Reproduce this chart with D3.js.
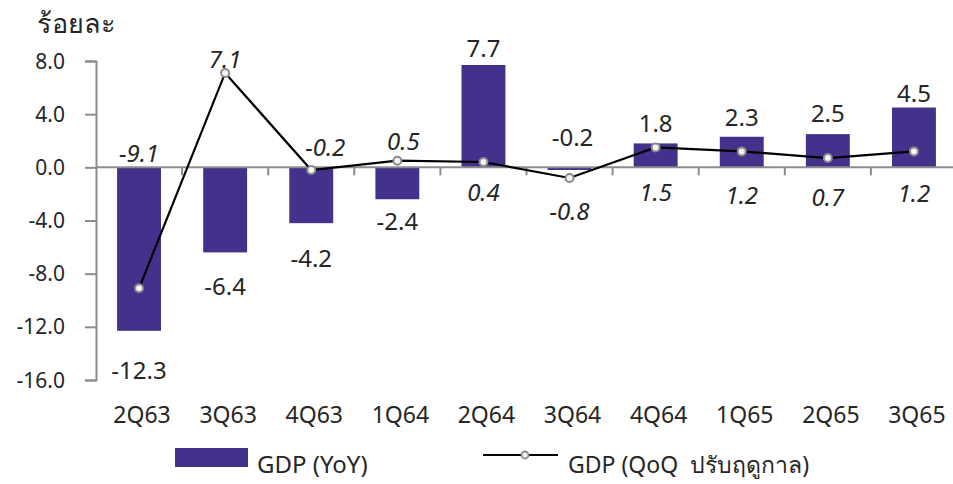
<!DOCTYPE html>
<html>
<head>
<meta charset="utf-8">
<script src="https://cdn.jsdelivr.net/npm/d3@7"></script>
<style>
body { margin: 0; background: #fff; }
svg { font-family: "Noto Sans", "DejaVu Sans", sans-serif; }
</style>
</head>
<body>
<script>
var quarters = ["2Q63", "3Q63", "4Q63", "1Q64", "2Q64", "3Q64", "4Q64", "1Q65", "2Q65", "3Q65"];
var gdpYoY = [-12.3, -6.4, -4.2, -2.4, 7.7, -0.2, 1.8, 2.3, 2.5, 4.5];
var gdpQoQ = [-9.1, 7.1, -0.2, 0.5, 0.4, -0.8, 1.5, 1.2, 0.7, 1.2];
var yTicks = [8, 4, 0, -4, -8, -12, -16];

// where each value label sits, in axis units
var yoyLabelAt = [-15.3, -9.0, -6.85, -4.1, 8.95, 2.2, 3.3, 3.75, 4.05, 5.55];
var qoqLabelAt = [1.05, 8.1, 1.5, 1.95, -1.9, -3.3, -1.9, -2.1, -2.25, -1.95];

var w = 953;
var h = 484;
var barColor = "#44318b";
var axisColor = "#8c8c8c";
var textColor = "#262626";

var svg = d3.select("body").append("svg").attr("width", w).attr("height", h);

var x = d3.scaleBand().domain(quarters).range([96, 957]).paddingInner(0.49).paddingOuter(0.245);
var y = d3.scaleLinear().domain([-16, 8]).range([380, 61]);
var step = x.step();

// unit label
svg.append("text").attr("x", 37).attr("y", 33).attr("font-size", 27).attr("fill", textColor).text("ร้อยละ");

// bars
svg.selectAll("rect.bar").data(gdpYoY).enter().append("rect")
    .attr("class", "bar")
    .attr("x", function(d, i){ return x(quarters[i]); })
    .attr("y", function(d){ return y(Math.max(0, d)); })
    .attr("width", x.bandwidth())
    .attr("height", function(d){ return Math.abs(y(d) - y(0)); })
    .attr("fill", barColor);

// y axis: ticks from d3, labels written next to them
var yAxis = d3.axisLeft(y).tickValues(yTicks).tickSize(11).tickFormat("");
var gy = svg.append("g").attr("transform", "translate(96,0)").call(yAxis);
gy.select(".domain").attr("stroke", axisColor).attr("stroke-width", 2);
gy.selectAll(".tick line").attr("stroke", axisColor).attr("stroke-width", 2);

svg.selectAll("text.ytick").data(yTicks).enter().append("text")
    .attr("class", "ytick")
    .attr("x", 65)
    .attr("y", function(d){ return y(d); })
    .attr("dy", "0.36em")
    .attr("text-anchor", "end").attr("font-size", 21).attr("fill", textColor)
    .text(function(d){ return d.toFixed(1); });

// zero line with category ticks
svg.append("line").attr("x1", 96).attr("x2", w).attr("y1", y(0)).attr("y2", y(0))
    .attr("stroke", axisColor).attr("stroke-width", 2);
svg.selectAll("line.ctick").data(quarters.slice(1)).enter().append("line")
    .attr("class", "ctick")
    .attr("x1", function(d){ return x(d) - x.paddingInner() * step / 2; })
    .attr("x2", function(d){ return x(d) - x.paddingInner() * step / 2; })
    .attr("y1", y(0)).attr("y2", y(0) + 8)
    .attr("stroke", axisColor).attr("stroke-width", 2);

// category labels
svg.selectAll("text.cat").data(quarters).enter().append("text")
    .attr("class", "cat")
    .attr("x", function(d){ return x(d) + x.bandwidth() / 2 + 3; })
    .attr("y", 423)
    .attr("text-anchor", "middle").attr("font-size", 23).attr("fill", textColor)
    .text(function(d){ return d; });

// QoQ line
var cx = function(i){ return x(quarters[i]) + x.bandwidth() / 2; };
var line = d3.line().x(function(d, i){ return cx(i); }).y(function(d){ return y(d); });
svg.append("path").datum(gdpQoQ).attr("d", line)
    .attr("fill", "none").attr("stroke", "#000").attr("stroke-width", 2.2);
svg.selectAll("circle.pt").data(gdpQoQ).enter().append("circle")
    .attr("class", "pt")
    .attr("cx", function(d, i){ return cx(i); })
    .attr("cy", function(d){ return y(d); })
    .attr("r", 4)
    .attr("fill", "#f4f4f4").attr("stroke", "#8a8a8a").attr("stroke-width", 2);

// value labels
svg.selectAll("text.yoy").data(gdpYoY).enter().append("text")
    .attr("class", "yoy")
    .attr("x", function(d, i){ return cx(i) + (i == 5 ? 3 : 0); })
    .attr("y", function(d, i){ return y(yoyLabelAt[i]); })
    .attr("dy", "0.35em")
    .attr("text-anchor", "middle").attr("font-size", 24).attr("fill", textColor)
    .text(function(d){ return d.toFixed(1); });

svg.selectAll("text.qoq").data(gdpQoQ).enter().append("text")
    .attr("class", "qoq")
    .attr("x", function(d, i){ return cx(i) + (i == 2 ? 14 : (i == 3 ? 6 : 0)); })
    .attr("y", function(d, i){ return y(qoqLabelAt[i]); })
    .attr("dy", "0.35em")
    .attr("text-anchor", "middle").attr("font-size", 24).attr("font-style", "italic").attr("fill", textColor)
    .text(function(d){ return d.toFixed(1); });

// legend
var lg = svg.append("g");
lg.append("rect").attr("x", 175).attr("y", 448).attr("width", 73).attr("height", 19).attr("fill", barColor);
lg.append("text").attr("x", 257).attr("y", 473).attr("font-size", 24).attr("fill", textColor).text("GDP (YoY)");
lg.append("line").attr("x1", 483).attr("x2", 558).attr("y1", 455).attr("y2", 455)
    .attr("stroke", "#000").attr("stroke-width", 2.2);
lg.append("circle").attr("cx", 525).attr("cy", 455).attr("r", 3.5)
    .attr("fill", "#f4f4f4").attr("stroke", "#8a8a8a").attr("stroke-width", 1.8);
lg.append("text").attr("x", 568).attr("y", 473).attr("font-size", 23).attr("fill", textColor)
    .style("white-space", "pre").text("GDP (QoQ  ปรับฤดูกาล)");
</script>
</body>
</html>
